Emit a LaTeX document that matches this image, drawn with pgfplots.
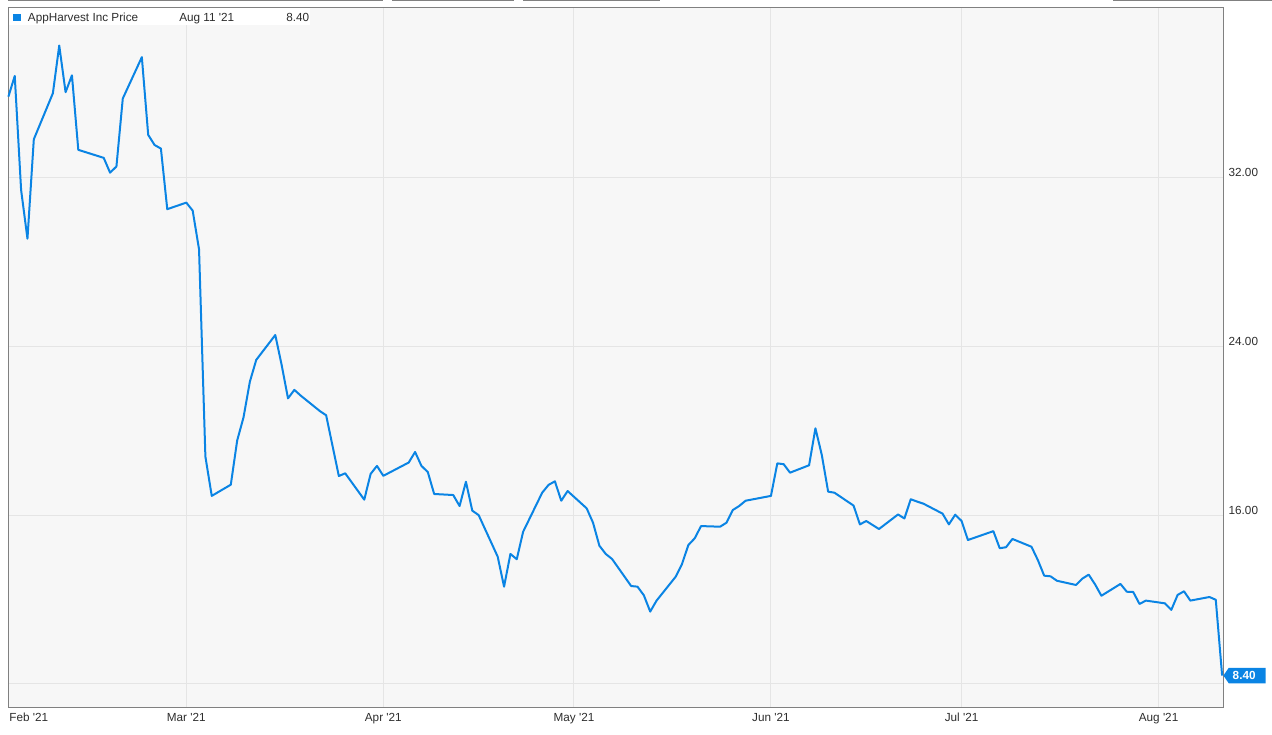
\documentclass[border=0pt]{standalone}
\usepackage{pgfplots}
\pgfplotsset{compat=1.18}
\usepackage{fontspec}
\setmainfont{Liberation Sans}

\definecolor{lineblue}{RGB}{10,132,228}
\definecolor{plotbg}{RGB}{247,247,247}
\definecolor{gridgray}{RGB}{229,229,229}
\definecolor{framegray}{RGB}{128,128,128}
\definecolor{labelgray}{RGB}{45,45,45}

% x = days since 1 Feb 2021, y = closing price (USD)
\pgfplotstableread{
d price
0 35.82
1 36.80
2 31.40
3 29.09
4 33.80
7 35.98
8 38.24
9 36.03
10 36.83
11 33.30
15 32.92
16 32.22
17 32.51
18 35.73
21 37.69
22 34.01
23 33.53
24 33.36
25 30.49
28 30.80
29 30.42
30 28.59
31 18.77
32 16.91
35 17.44
36 19.53
37 20.63
38 22.32
39 23.35
42 24.53
43 23.11
44 21.53
45 21.93
46 21.66
49 20.93
50 20.73
51 19.29
52 17.85
53 17.98
56 16.73
57 17.95
58 18.33
59 17.86
63 18.49
64 18.99
65 18.33
66 18.04
67 17.00
70 16.95
71 16.43
72 17.58
73 16.21
74 16.00
77 14.03
78 12.61
79 14.16
80 13.91
81 15.21
84 17.06
85 17.43
86 17.60
87 16.68
88 17.14
91 16.32
92 15.64
93 14.55
94 14.16
95 13.92
98 12.64
99 12.61
100 12.20
101 11.43
102 11.95
105 13.08
106 13.68
107 14.58
108 14.90
109 15.48
112 15.45
113 15.64
114 16.24
115 16.43
116 16.68
120 16.91
121 18.45
122 18.41
123 18.01
126 18.36
127 20.11
128 18.85
129 17.11
130 17.06
133 16.45
134 15.56
135 15.72
136 15.53
137 15.34
140 16.03
141 15.84
142 16.75
143 16.64
144 16.54
147 16.07
148 15.56
149 16.02
150 15.72
151 14.82
155 15.24
156 14.43
157 14.48
158 14.87
161 14.50
162 13.87
163 13.13
164 13.10
165 12.89
168 12.69
169 12.99
170 13.18
171 12.72
172 12.18
175 12.74
176 12.37
177 12.36
178 11.79
179 11.95
182 11.82
183 11.51
184 12.22
185 12.39
186 11.95
189 12.12
190 11.99
191 8.40
}\pricedata

\newcommand{\lbl}{\fontsize{8.8}{10}\selectfont}

\begin{document}
\begin{tikzpicture}
% page frame in pixel units (origin top left)
\begin{scope}[x=0.75pt,y=-0.75pt]
\useasboundingbox (0,0) rectangle (1272,735);
\draw[framegray, line width=1.1pt] (8,0.7) -- (383,0.7) (392,0.7) -- (514,0.7)
  (523,0.7) -- (660,0.7) (1113,0.7) -- (1272,0.7);
\end{scope}

\begin{axis}[
  at={(6.3pt,-530.475pt)}, anchor=south west,
  scale only axis, width=911.25pt, height=524.5pt,
  xmin=0, xmax=191.2, ymin=6.896, ymax=40.02,
  axis background/.style={fill=plotbg},
  axis line style={framegray, line width=0.75pt},
  grid=major, major grid style={gridgray, line width=0.75pt},
  major tick length=0pt,
  xtick={28,59,89,120,150,181},
  xticklabels={Mar \textquotesingle21, Apr \textquotesingle21, May \textquotesingle21,
    Jun \textquotesingle21, Jul \textquotesingle21, Aug \textquotesingle21},
  extra x ticks={0},
  extra x tick labels={Feb \textquotesingle21},
  extra x tick style={grid=none, xticklabel style={anchor=north west, xshift=0.5pt}},
  xticklabel style={anchor=north, inner sep=0pt, yshift=-4pt},
  ytick={8,16,24,32},
  yticklabels={,16.00,24.00,32.00},
  yticklabel pos=right,
  yticklabel style={anchor=base west, inner sep=0pt, xshift=3.75pt, yshift=0.5pt},
  ticklabel style={font=\lbl, text=labelgray},
  clip=false,
]
\addplot[lineblue, line width=1.5pt, line join=round] table[x=d, y=price] {\pricedata};

% last price badge
\fill[lineblue] (axis cs:191.2,8.40) -- ++(4pt,5.8pt) -- ++(27.6pt,0pt)
  -- ++(0pt,-11.6pt) -- ++(-27.6pt,0pt) -- cycle;
\node[anchor=west, inner sep=0pt, text=white, font=\lbl\bfseries]
  at ([xshift=6.8pt]axis cs:191.2,8.40) {8.40};
\end{axis}

% legend strip
\begin{scope}[x=0.75pt,y=-0.75pt]
\fill[white] (8.5,8.4) rectangle (310,25);
\fill[lineblue] (13.3,14) rectangle (20.7,21.3);
\node[anchor=base west, inner sep=0pt, font=\lbl, text=labelgray] at (27.7,21.7) {AppHarvest Inc Price};
\node[anchor=base west, inner sep=0pt, font=\lbl, text=labelgray] at (179,21.7) {Aug 11 \textquotesingle21};
\node[anchor=base east, inner sep=0pt, font=\lbl, text=labelgray] at (309.5,21.7) {8.40};
\end{scope}
\end{tikzpicture}
\end{document}
